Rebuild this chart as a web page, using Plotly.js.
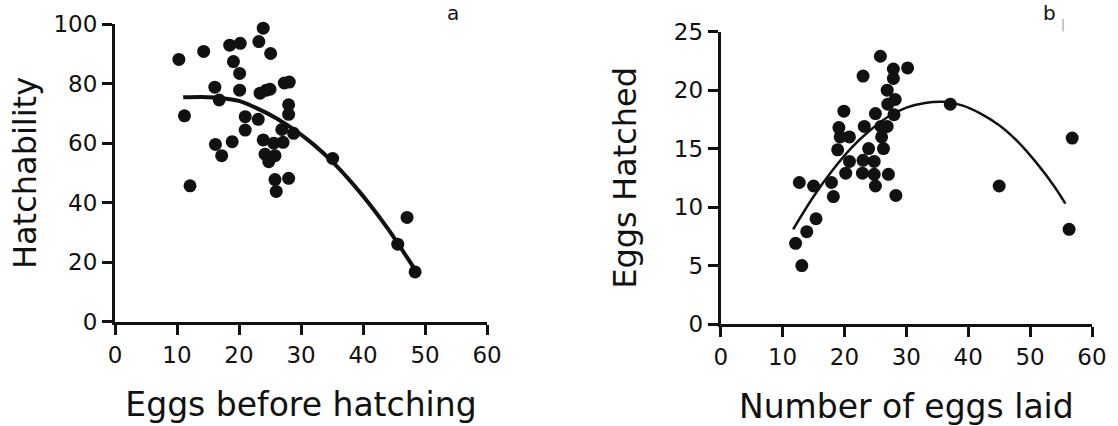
<!DOCTYPE html>
<html><head><meta charset="utf-8">
<script src="https://cdn.plot.ly/plotly-3.0.1.min.js"></script>
<style>html,body{margin:0;padding:0;background:#fff}#chart{width:1118px;height:426px}</style>
</head><body><div id="chart"></div>
<script>
// Panel a: Hatchability vs eggs before hatching
const eggsBefore = [10.3, 11.2, 12.1, 14.3, 16.1, 16.8, 16.2, 17.2, 18.5, 20.2, 19.1, 20.1, 20.1, 18.9, 21.0, 21.0, 23.1, 23.2, 23.9, 25.1, 23.4, 24.4, 25.0, 27.3, 28.1, 28.0, 28.0, 26.9, 28.8, 23.9, 25.6, 27.1, 24.2, 25.8, 24.8, 25.8, 28.0, 26.0, 35.1, 45.6, 47.1, 48.4];
const hatchability = [88.1, 69.2, 45.7, 90.8, 78.8, 74.5, 59.6, 55.8, 92.9, 93.5, 87.4, 83.4, 77.8, 60.5, 68.9, 64.4, 68.0, 94.1, 98.6, 90.1, 76.8, 77.8, 78.1, 80.2, 80.5, 72.9, 69.7, 64.6, 63.3, 61.1, 60.0, 60.3, 56.3, 55.8, 53.8, 47.8, 48.2, 43.8, 54.9, 26.1, 35.1, 16.8];
const fitAx = [11, 14, 17, 20, 23, 26, 29, 32, 35, 38, 41, 44, 47, 48.5];
const fitAy = [75.4, 75.5, 75.2, 74.2, 71.6, 68.4, 64.4, 59.6, 53.9, 47.2, 39.7, 31.3, 22.0, 17.2];

// Panel b: Eggs hatched vs number of eggs laid
const eggsLaid = [12.1, 13.1, 12.7, 13.9, 15.0, 15.4, 17.9, 18.2, 18.9, 19.1, 19.3, 20.8, 19.9, 20.2, 20.8, 23.0, 22.9, 23.9, 23.2, 23.0, 24.8, 24.8, 25.0, 25.8, 25.0, 26.0, 26.3, 25.9, 26.9, 27.1, 26.9, 27.9, 27.9, 27.0, 28.2, 28.0, 28.3, 30.2, 37.1, 45.0, 56.8, 56.3];
const eggsHatched = [6.9, 5.0, 12.1, 7.9, 11.8, 9.0, 12.1, 10.9, 14.9, 16.8, 16.0, 16.0, 18.2, 12.9, 13.9, 14.0, 12.9, 15.0, 16.9, 21.2, 13.9, 12.8, 11.8, 22.9, 18.0, 16.0, 15.0, 16.9, 16.9, 12.8, 20.0, 21.8, 21.0, 18.8, 19.2, 17.9, 11.0, 21.9, 18.8, 11.8, 15.9, 8.1];
const fitBx = [11.7, 15, 18, 21, 24, 27, 30, 33, 36, 39, 42, 45, 48, 51, 54, 55.7];
const fitBy = [8.1, 10.9, 13.1, 15.0, 16.5, 17.7, 18.5, 18.9, 19.0, 18.7, 18.0, 17.0, 15.6, 13.8, 11.7, 10.3];

const xTicks = [0, 10, 20, 30, 40, 50, 60];
const yTicksA = [0, 20, 40, 60, 80, 100];
const yTicksB = [0, 5, 10, 15, 20, 25];

const FONT = 'DejaVu Sans, sans-serif';
const INK = '#111';

const traces = [
  {x: eggsBefore, y: hatchability, type: 'scatter', mode: 'markers', xaxis: 'x', yaxis: 'y',
   marker: {size: 13, color: INK}, cliponaxis: false},
  {x: fitAx, y: fitAy, type: 'scatter', mode: 'lines', xaxis: 'x', yaxis: 'y',
   line: {color: INK, width: 4, shape: 'spline', smoothing: 0.8}},
  {x: eggsLaid, y: eggsHatched, type: 'scatter', mode: 'markers', xaxis: 'x2', yaxis: 'y2',
   marker: {size: 13, color: INK}, cliponaxis: false},
  {x: fitBx, y: fitBy, type: 'scatter', mode: 'lines', xaxis: 'x2', yaxis: 'y2',
   line: {color: INK, width: 2.5, shape: 'spline', smoothing: 0.8}}
];

function ax(extra) {
  return Object.assign({
    showline: true, linecolor: INK, linewidth: 3, mirror: false,
    ticks: 'outside', ticklen: 10, tickwidth: 3, tickcolor: INK,
    showgrid: false, zeroline: false, fixedrange: true,
    tickfont: {family: FONT, size: 23, color: INK}
  }, extra);
}

const layout = {
  width: 1118, height: 426,
  margin: {l: 115, r: 26, t: 24, b: 102},
  paper_bgcolor: '#fff', plot_bgcolor: '#fff',
  showlegend: false,
  font: {family: FONT, color: INK},
  xaxis: ax({domain: [0, 0.3808], range: [0, 60], tickvals: xTicks, anchor: 'y',
    title: {text: 'Eggs before hatching', font: {family: FONT, size: 33, color: INK}, standoff: 27}}),
  yaxis: ax({domain: [0.0067, 1], range: [0, 100], tickvals: yTicksA, anchor: 'x',
    title: {text: 'Hatchability', font: {family: FONT, size: 32, color: INK}, standoff: 8}}),
  xaxis2: ax({domain: [0.62, 1], range: [0, 60], tickvals: xTicks, anchor: 'y2',
    title: {text: 'Number of eggs laid', font: {family: FONT, size: 33, color: INK}, standoff: 27}}),
  yaxis2: ax({domain: [0, 0.9744], range: [0, 25], tickvals: yTicksB, anchor: 'x2',
    title: {text: 'Eggs Hatched', font: {family: FONT, size: 32, color: INK}, standoff: 28}}),
  annotations: [
    {text: 'a', xref: 'paper', yref: 'paper', x: 0.346, y: 1.0366, xanchor: 'center', yanchor: 'middle',
     showarrow: false, font: {family: FONT, size: 20, color: INK}},
    {text: 'b', xref: 'paper', yref: 'paper', x: 0.956, y: 1.0366, xanchor: 'center', yanchor: 'middle',
     showarrow: false, font: {family: FONT, size: 20, color: INK}},
    {text: '|', xref: 'paper', yref: 'paper', x: 0.970, y: 0.9967, xanchor: 'center', yanchor: 'middle',
     showarrow: false, font: {family: FONT, size: 12, color: '#999'}}
  ]
};

Plotly.newPlot('chart', traces, layout, {staticPlot: true, displayModeBar: false});
</script>
</body></html>
